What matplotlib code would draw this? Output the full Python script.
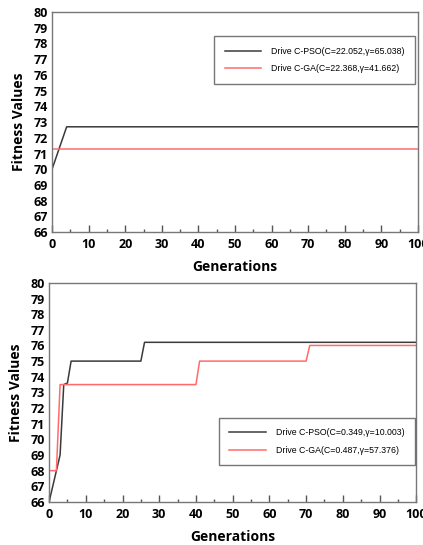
#!/usr/bin/env python3
"""Fitness convergence curves, Drive C PSO vs GA (two panels)."""

import matplotlib

matplotlib.use("Agg")
import matplotlib.pyplot as plt
from matplotlib.ticker import MultipleLocator

# top panel
top_pso_gen = [0, 4, 100]
top_pso_fit = [70.0, 72.7, 72.7]
top_ga_gen = [0, 100]
top_ga_fit = [71.3, 71.3]
top_labels = ["Drive C-PSO(C=22.052,γ=65.038)", "Drive C-GA(C=22.368,γ=41.662)"]

# bottom panel
bot_pso_gen = [0, 1, 2, 3, 4, 5, 6, 25, 26, 100]
bot_pso_fit = [66.0, 67.0, 68.0, 69.0, 73.5, 73.6, 75.0, 75.0, 76.2, 76.2]
bot_ga_gen = [0, 2, 3, 40, 41, 70, 71, 100]
bot_ga_fit = [68.0, 68.0, 73.5, 73.5, 75.0, 75.0, 76.0, 76.0]
bot_labels = ["Drive C-PSO(C=0.349,γ=10.003)", "Drive C-GA(C=0.487,γ=57.376)"]

y_ticks = list(range(66, 81))
x_ticks = list(range(0, 101, 10))

PSO_COLOR = "#3a3a3a"
GA_COLOR = "#ff6b6b"
LABEL_FONT = ["Open Sans", "DejaVu Sans"]
LEGEND_FONT = ["Liberation Sans Narrow", "Liberation Sans", "DejaVu Sans"]


def style_axes(ax):
    ax.set_xlim(0, 100)
    ax.set_ylim(66, 80)
    ax.set_xticks(x_ticks)
    ax.set_yticks(y_ticks)
    ax.xaxis.set_minor_locator(MultipleLocator(5))
    ax.tick_params(axis="x", which="major", direction="in", length=5, width=1,
                   color="#555555", pad=4)
    ax.tick_params(axis="x", which="minor", direction="in", length=2.5, width=1,
                   color="#555555")
    ax.tick_params(axis="y", length=0, pad=3)
    for lab in ax.get_xticklabels() + ax.get_yticklabels():
        lab.set_fontfamily(LABEL_FONT)
        lab.set_fontweight("bold")
        lab.set_fontsize(9)
    for sp in ax.spines.values():
        sp.set_color("#777777")
        sp.set_linewidth(1)
    ax.set_xlabel("Generations", fontfamily=LABEL_FONT, fontweight="bold",
                  fontsize=10, labelpad=7)
    ax.set_ylabel("Fitness Values", fontfamily=LABEL_FONT, fontweight="bold",
                  fontsize=10, labelpad=5)


def add_legend(ax, anchor):
    leg = ax.legend(loc="upper left", bbox_to_anchor=anchor,
                    prop={"family": LEGEND_FONT, "size": 6.3},
                    frameon=True, fancybox=False, shadow=False,
                    handlelength=4.2, handletextpad=1.1, borderpad=1.2,
                    labelspacing=0.95, borderaxespad=0)
    fr = leg.get_frame()
    fr.set_edgecolor("#555555")
    fr.set_linewidth(1)


def main():
    fig = plt.figure(figsize=(4.23, 5.45), dpi=100)

    ax1 = fig.add_axes([0.123, 0.574, 0.865, 0.404])
    ax1.plot(top_pso_gen, top_pso_fit, color=PSO_COLOR, lw=1.1, label=top_labels[0])
    ax1.plot(top_ga_gen, top_ga_fit, color=GA_COLOR, lw=1.1, label=top_labels[1])
    style_axes(ax1)
    add_legend(ax1, (0.443, 0.89))

    ax2 = fig.add_axes([0.116, 0.079, 0.868, 0.402])
    ax2.plot(bot_pso_gen, bot_pso_fit, color=PSO_COLOR, lw=1.1, label=bot_labels[0])
    ax2.plot(bot_ga_gen, bot_ga_fit, color=GA_COLOR, lw=1.1, label=bot_labels[1])
    style_axes(ax2)
    add_legend(ax2, (0.462, 0.384))

    fig.savefig("out.png", dpi=100)
    plt.close(fig)


if __name__ == "__main__":
    main()
